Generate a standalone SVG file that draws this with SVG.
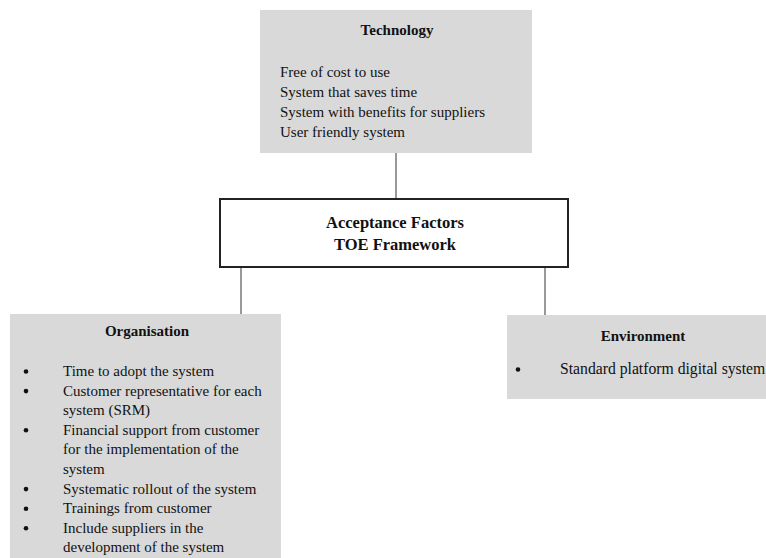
<svg xmlns="http://www.w3.org/2000/svg" width="766" height="558" viewBox="0 0 766 558">
<style>
.box{fill:#d9d9d9;stroke:none}
.main{fill:#ffffff;stroke:#222;stroke-width:2}
.t{font-family:"Liberation Serif","Times New Roman",serif;font-size:15px;fill:#111}
.te{font-family:"Liberation Serif","Times New Roman",serif;font-size:15.7px;fill:#111}
.h{font-family:"Liberation Serif","Times New Roman",serif;font-size:15px;font-weight:bold;fill:#111}
.hm{font-family:"Liberation Serif","Times New Roman",serif;font-size:16.5px;font-weight:bold;fill:#111}
.c{stroke:#555;stroke-width:1.2;fill:none}
.dot{fill:#111}
</style>
<rect width="766" height="558" fill="#ffffff"/>
<g id="connectors">
<line class="c" x1="396" y1="153" x2="396" y2="199"/>
<line class="c" x1="241" y1="267" x2="241" y2="314"/>
<line class="c" x1="545" y1="267" x2="545" y2="315"/>
</g>
<g id="technology">
<rect class="box" x="260" y="10" width="272" height="143"/>
<text class="h" x="397" y="35" text-anchor="middle">Technology</text>
<text class="t" x="280" y="77">Free of cost to use</text>
<text class="t" x="280" y="97">System that saves time</text>
<text class="t" x="280" y="117">System with benefits for suppliers</text>
<text class="t" x="280" y="137">User friendly system</text>
</g>
<g id="acceptance">
<rect class="main" x="220" y="199" width="348" height="68"/>
<text class="hm" x="395" y="228" text-anchor="middle">Acceptance Factors</text>
<text class="hm" x="395" y="250" text-anchor="middle">TOE Framework</text>
</g>
<g id="organisation">
<rect class="box" x="10" y="314" width="271" height="244"/>
<text class="h" x="147" y="336" text-anchor="middle">Organisation</text>
<g class="dot">
<circle cx="26" cy="371.5" r="2.3"/>
<circle cx="26" cy="391.1" r="2.3"/>
<circle cx="26" cy="430.3" r="2.3"/>
<circle cx="26" cy="489.1" r="2.3"/>
<circle cx="26" cy="508.7" r="2.3"/>
<circle cx="26" cy="528.3" r="2.3"/>
</g>
<g class="t">
<text x="63" y="376">Time to adopt the system</text>
<text x="63" y="395.6">Customer representative for each</text>
<text x="63" y="415.2">system (SRM)</text>
<text x="63" y="434.8">Financial support from customer</text>
<text x="63" y="454.4">for the implementation of the</text>
<text x="63" y="474">system</text>
<text x="63" y="493.6">Systematic rollout of the system</text>
<text x="63" y="513.2">Trainings from customer</text>
<text x="63" y="532.8">Include suppliers in the</text>
<text x="63" y="552.4">development of the system</text>
</g>
</g>
<g id="environment">
<rect class="box" x="507" y="315" width="259" height="84"/>
<text class="h" x="643" y="341" text-anchor="middle">Environment</text>
<circle class="dot" cx="518" cy="369.5" r="2.3"/>
<text class="te" x="560" y="374">Standard platform digital system</text>
</g>
</svg>
